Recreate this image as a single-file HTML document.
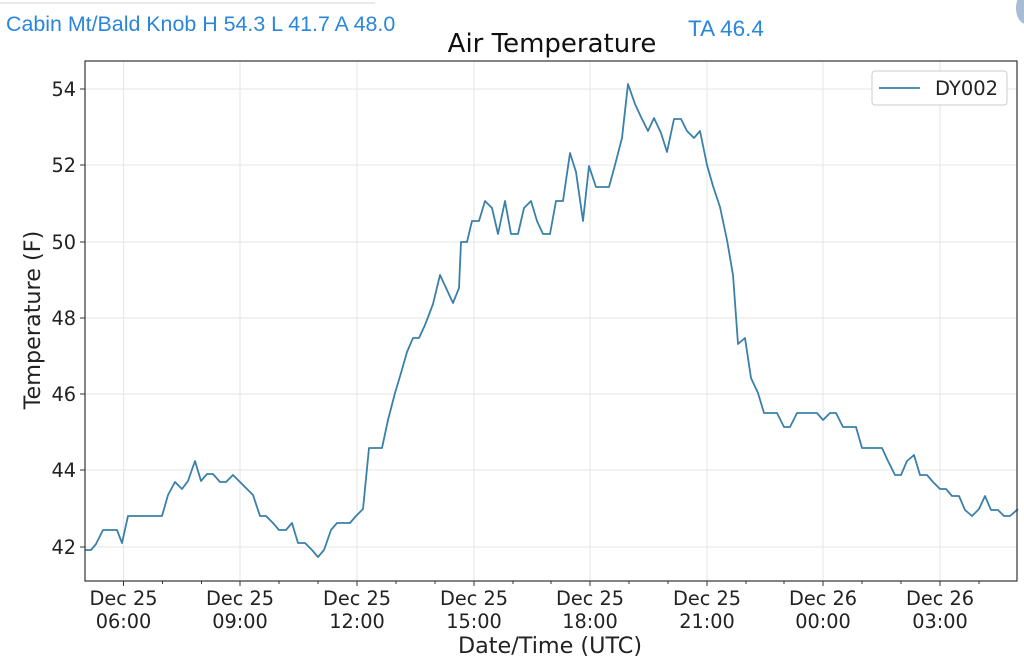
<!DOCTYPE html>
<html><head><meta charset="utf-8"><style>
body{margin:0;background:#fff;width:1024px;height:667px;overflow:hidden}
</style></head><body>
<svg width="1024" height="667" xmlns="http://www.w3.org/2000/svg" font-family="DejaVu Sans, sans-serif">
<rect width="1024" height="667" fill="#fff"/>
<line x1="0" y1="3" x2="375" y2="3" stroke="#e4e4e4" stroke-width="1.5"/>
<ellipse cx="1026" cy="8" rx="10" ry="16" fill="#a9bcd6"/>
<text x="6" y="31" font-family="Liberation Sans, sans-serif" font-size="21.4" fill="#2a86dc">Cabin Mt/Bald Knob H 54.3 L 41.7 A 48.0</text>
<text x="688" y="36" font-family="Liberation Sans, sans-serif" font-size="22.5" fill="#2a86dc">TA 46.4</text>
<text x="552" y="52" font-size="26" text-anchor="middle" fill="#111">Air Temperature</text>
<g stroke="#e6e6e6" stroke-width="1">
<line x1="85" y1="89" x2="1017" y2="89"/><line x1="85" y1="165" x2="1017" y2="165"/><line x1="85" y1="242" x2="1017" y2="242"/><line x1="85" y1="318" x2="1017" y2="318"/><line x1="85" y1="394" x2="1017" y2="394"/><line x1="85" y1="470" x2="1017" y2="470"/><line x1="85" y1="547" x2="1017" y2="547"/>
<line x1="123.5" y1="61" x2="123.5" y2="581"/><line x1="240" y1="61" x2="240" y2="581"/><line x1="357" y1="61" x2="357" y2="581"/><line x1="474" y1="61" x2="474" y2="581"/><line x1="590" y1="61" x2="590" y2="581"/><line x1="707" y1="61" x2="707" y2="581"/><line x1="823" y1="61" x2="823" y2="581"/><line x1="940" y1="61" x2="940" y2="581"/>
</g>
<polyline fill="none" stroke="#3a80a8" stroke-width="1.8" stroke-linejoin="round" points="85,550 91,550 96,544 103,530 117,530 122,543 128,516 162,516 168,495 175,482 182,489 188,481 195,461 201,481 207,474 213,474 220,482 226,482 233,475 240,482 246,488 253,495 260,516 266,516 273,523 279,530 286,530 292,523 298,543 305,543 312,550 318,557 324,550 331,530 337,523 350,523 356,516 363,509 369,448 382,448 388,420 395,393 401,373 407,352 413,338 419,338 425,325 433,304 440,275 447,290 453,303 459,288 461,242 467,242 472,221 479,221 485,201 492,208 498,234 505,201 511,234 518,234 524,208 531,201 537,221 543,234 550,234 556,201 563,201 570,153 576,172 583,221 589,166 596,187 609,187 615,165 622,138 628,84 635,104 641,117 648,131 654,118 661,133 667,152 674,119 681,119 687,131 694,138 700,131 707,165 713,186 720,207 727,240 733,275 738,344 745,338 751,378 758,393 764,413 777,413 784,427 790,427 797,413 817,413 823,420 830,413 836,413 843,427 856,427 862,448 882,448 888,461 895,475 901,475 907,461 914,455 920,475 927,475 933,482 940,489 946,489 952,496 959,496 965,510 972,516 979,509 985,496 991,510 998,510 1004,516 1010,516 1018,509"/>
<rect x="85" y="61" width="932" height="520" fill="none" stroke="#333" stroke-width="1.2"/>
<g stroke="#333" stroke-width="1">
<line x1="80" y1="89" x2="85" y2="89"/><line x1="80" y1="165" x2="85" y2="165"/><line x1="80" y1="242" x2="85" y2="242"/><line x1="80" y1="318" x2="85" y2="318"/><line x1="80" y1="394" x2="85" y2="394"/><line x1="80" y1="470" x2="85" y2="470"/><line x1="80" y1="547" x2="85" y2="547"/>
<line x1="123.5" y1="581" x2="123.5" y2="586"/><line x1="240" y1="581" x2="240" y2="586"/><line x1="357" y1="581" x2="357" y2="586"/><line x1="474" y1="581" x2="474" y2="586"/><line x1="590" y1="581" x2="590" y2="586"/><line x1="707" y1="581" x2="707" y2="586"/><line x1="823" y1="581" x2="823" y2="586"/><line x1="940" y1="581" x2="940" y2="586"/>
<line x1="162.5" y1="581" x2="162.5" y2="584"/><line x1="201.5" y1="581" x2="201.5" y2="584"/><line x1="279" y1="581" x2="279" y2="584"/><line x1="318" y1="581" x2="318" y2="584"/><line x1="396" y1="581" x2="396" y2="584"/><line x1="435" y1="581" x2="435" y2="584"/><line x1="513" y1="581" x2="513" y2="584"/><line x1="551" y1="581" x2="551" y2="584"/><line x1="629" y1="581" x2="629" y2="584"/><line x1="668" y1="581" x2="668" y2="584"/><line x1="746" y1="581" x2="746" y2="584"/><line x1="784" y1="581" x2="784" y2="584"/><line x1="862" y1="581" x2="862" y2="584"/><line x1="901" y1="581" x2="901" y2="584"/><line x1="979" y1="581" x2="979" y2="584"/>
</g>
<g font-size="19.3" fill="#222" text-anchor="end">
<text x="76" y="96">54</text><text x="76" y="172">52</text><text x="76" y="249">50</text><text x="76" y="325">48</text><text x="76" y="401">46</text><text x="76" y="477">44</text><text x="76" y="554">42</text>
</g>
<g font-size="19.3" fill="#222" text-anchor="middle">
<text x="123.5" y="605">Dec 25</text><text x="123.5" y="628">06:00</text>
<text x="240" y="605">Dec 25</text><text x="240" y="628">09:00</text>
<text x="357" y="605">Dec 25</text><text x="357" y="628">12:00</text>
<text x="474" y="605">Dec 25</text><text x="474" y="628">15:00</text>
<text x="590" y="605">Dec 25</text><text x="590" y="628">18:00</text>
<text x="707" y="605">Dec 25</text><text x="707" y="628">21:00</text>
<text x="823" y="605">Dec 26</text><text x="823" y="628">00:00</text>
<text x="940" y="605">Dec 26</text><text x="940" y="628">03:00</text>
</g>
<text x="550" y="653" font-size="22.3" text-anchor="middle" fill="#222">Date/Time (UTC)</text>
<text transform="translate(40,320) rotate(-90)" font-size="22.3" text-anchor="middle" fill="#222">Temperature (F)</text>
<rect x="872" y="71" width="135" height="34" rx="3" fill="#fff" stroke="#ccc"/>
<line x1="879" y1="88" x2="920" y2="88" stroke="#3a80a8" stroke-width="1.8"/>
<text x="935" y="95" font-size="19.5" fill="#222">DY002</text>
</svg>
</body></html>
